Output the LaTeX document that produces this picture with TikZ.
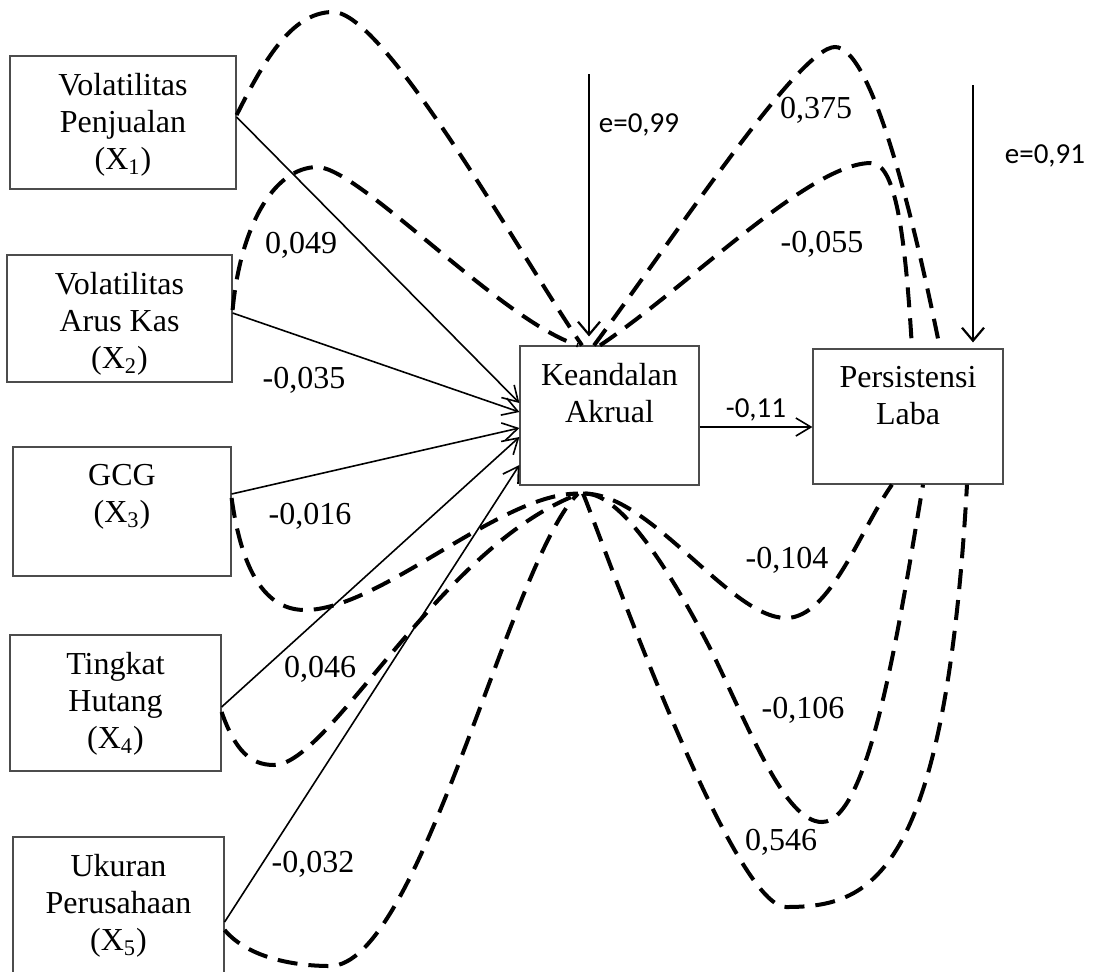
\documentclass[tikz,border=0pt]{standalone}
\usepackage{fontspec}
\setmainfont{Liberation Serif}
\newfontfamily\calfont{Carlito}
\usetikzlibrary{arrows.meta}
\begin{document}
\begin{tikzpicture}[x=0.5pt,y=-0.5pt,
  box/.style={draw=black!70,line width=0.6pt,inner sep=0pt},
  boxtext/.style={anchor=north,inner sep=0pt,align=center,font=\fontsize{16}{18.6}\selectfont,yshift=-8.6pt},
  coef/.style={anchor=base,inner sep=0pt,font=\fontsize{16}{18.6}\selectfont},
  elbl/.style={anchor=base,inner sep=0pt,font=\calfont\fontsize{14.5}{17}\selectfont},
  patharrow/.style={line width=0.8pt,-{Straight Barb[length=7.5pt,width=9pt]}},
  errarrow/.style={line width=1.1pt,-{Straight Barb[length=6.5pt,width=11pt]}},
  covcurve/.style={line width=2pt,dash pattern=on 10pt off 5.5pt}]
\useasboundingbox (0,0) rectangle (1098,971);

% boxes
\node[box,minimum width=113pt,minimum height=66.5pt] (x1) at (123,122.5) {};
\node[box,minimum width=112.5pt,minimum height=63.5pt] (x2) at (119.5,318.5) {};
\node[box,minimum width=109pt,minimum height=64.5pt] (x3) at (122,511.5) {};
\node[box,minimum width=105.5pt,minimum height=68pt] (x4) at (115.5,703) {};
\node[box,minimum width=105.5pt,minimum height=69.5pt] (x5) at (118.5,906.5) {};
\node[box,minimum width=89.5pt,minimum height=69.5pt] (k) at (609.5,415.5) {};
\node[box,minimum width=95pt,minimum height=67.5pt] (p) at (908,416.5) {};

% box texts
\node[boxtext] (t1) at (x1.north) {Volatilitas\\Penjualan\\(X\textsubscript{1})};
\node[boxtext] (t2) at (x2.north) {Volatilitas\\Arus Kas\\(X\textsubscript{2})};
\node[boxtext] (t3) at (x3.north) {GCG\\(X\textsubscript{3})};
\node[boxtext] (t4) at (x4.north) {Tingkat\\Hutang\\(X\textsubscript{4})};
\node[boxtext] (t5) at (x5.north) {Ukuran\\Perusahaan\\(X\textsubscript{5})};
\node[boxtext] (tk) at (k.north) {Keandalan\\Akrual};
\node[boxtext] (tp) at (p.north) {Persistensi\\Laba};

\coordinate (kbot) at ([yshift=-4pt]k.south);
\coordinate (e1) at (589,74);
\coordinate (e2) at (973,85);

% covariance curves
\draw[covcurve] (x1.east |- 0,115) .. controls (262,65) and (290,12) .. (333,12)
  .. controls (385,12) and (520,255) .. (k.north -| 582,0);
\draw[covcurve] (x2.east |- 0,310) .. controls (240,230) and (272,167) .. (318,167)
  .. controls (362,170) and (500,320) .. (k.north -| 578,0);
\draw[covcurve] (k.north -| 594,0) .. controls (680,229) and (800,47) .. (835,47)
  .. controls (870,47) and (910,200) .. (p.north -| 940,0);
\draw[covcurve] (k.north -| 600,0) .. controls (690,285) and (810,163) .. (871,163)
  .. controls (895,163) and (905,230) .. (p.north -| 912,0);
\draw[covcurve] (x3.east |- 0,498) .. controls (243,580) and (270,610) .. (305,610)
  .. controls (380,610) and (500,493) .. (kbot -| 578,0);
\draw[covcurve] (x4.east |- 0,712) .. controls (235,750) and (250,765) .. (274,765)
  .. controls (330,765) and (440,545) .. (kbot -| 580,0);
\draw[covcurve] (x5.east |- 0,930) .. controls (250,960) and (300,966) .. (330,966)
  .. controls (420,966) and (510,560) .. (kbot -| 578,0);
\draw[covcurve] (kbot -| 583,0) .. controls (650,492) and (730,618) .. (786,618)
  .. controls (830,618) and (860,530) .. (p.south -| 892,0);
\draw[covcurve] (kbot -| 585,0) .. controls (625,493) and (680,590) .. (711,650)
  .. controls (750,730) and (785,822) .. (822,822)
  .. controls (870,822) and (900,620) .. (p.south -| 923,0);
\draw[covcurve] (kbot -| 583,0) .. controls (595,520) and (730,907) .. (786,907)
  .. controls (870,907) and (945,880) .. (p.south -| 967,0);

% path arrows
\draw[patharrow] (x1.east |- 0,117) -- (k.west |- 0,403);
\draw[patharrow] (x2.east |- 0,313) -- (k.west |- 0,412);
\draw[patharrow] (x3.east |- 0,494) -- (k.west |- 0,428);
\draw[patharrow] (x4.east |- 0,707) -- (k.west |- 0,437);
\draw[patharrow] (x5.east |- 0,922) -- (k.west |- 0,465);
\draw[patharrow] (k.east |- 0,427) -- (p.west |- 0,427);
\draw[errarrow,shorten >=4.5pt] (e1) -- (k.north -| e1);
\draw[errarrow,shorten >=3pt] (e2) -- (p.north -| e2);

% labels
\node[coef] (c1) at (301,253) {0,049};
\node[coef] (c2) at (304,388) {-0,035};
\node[coef] (c3) at (310,524) {-0,016};
\node[coef] (c4) at (320,677) {0,046};
\node[coef] (c5) at (313,872) {-0,032};
\node[coef] (c6) at (816,118) {0,375};
\node[coef] (c7) at (822,252) {-0,055};
\node[elbl] (c8) at (756,417) {-0,11};
\node[coef] (c9) at (787,568) {-0,104};
\node[coef] (c10) at (803,718) {-0,106};
\node[coef] (c11) at (781,850) {0,546};
\node[elbl] (le1) at (639,132) {e=0,99};
\node[elbl] (le2) at (1045,163) {e=0,91};
\end{tikzpicture}
\end{document}
